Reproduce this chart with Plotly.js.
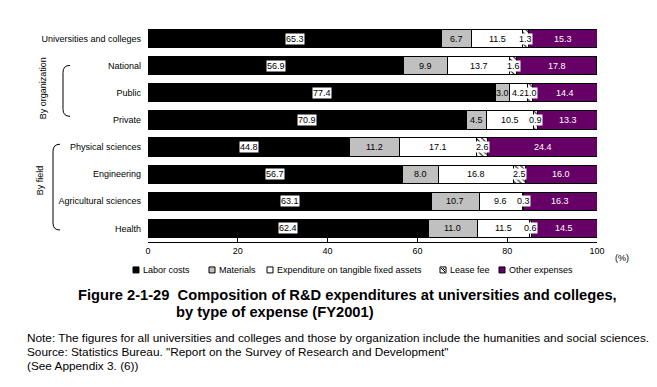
<!DOCTYPE html>
<html>
<head>
<meta charset="utf-8">
<script src="https://cdn.plot.ly/plotly-3.0.1.min.js"></script>
<style>
html,body{margin:0;padding:0;background:#fff;}
#chart{width:657px;height:387px;}
</style>
</head>
<body>
<div id="chart"></div>
<script>
// ---- data ----
const categories = ["Universities and colleges","National","Public","Private","Physical sciences","Engineering","Agricultural sciences","Health"];
const seriesNames = ["Labor costs","Materials","Expenditure on tangible fixed assets","Lease fee","Other expenses"];
const laborCosts   = [65.3, 56.9, 77.4, 70.9, 44.8, 56.7, 63.1, 62.4];
const materials    = [6.7, 9.9, 3.0, 4.5, 11.2, 8.0, 10.7, 11.0];
const fixedAssets  = [11.5, 13.7, 4.2, 10.5, 17.1, 16.8, 9.6, 11.5];
const leaseFee     = [1.3, 1.6, 1.0, 0.9, 2.6, 2.5, 0.3, 0.6];
const otherExp     = [15.3, 17.8, 14.4, 13.3, 24.4, 16.0, 16.3, 14.5];
const xTicks = [0, 20, 40, 60, 80, 100];

// ---- layout helpers (pixel geometry) ----
const W = 657, H = 387;
const L = 148, R = 597, T = 24.5, B = 242;
const px = x => (x - L) / (R - L);
const py = y => (B - y) / (B - T);

const FONT = "Arial, 'Liberation Sans', sans-serif";
const series = [laborCosts, materials, fixedAssets, leaseFee, otherExp];
const fills = ["#000000", "#c0c0c0", "#ffffff", "#ffffff", "#660066"];

const traces = series.map((vals, i) => {
  const t = {
    type: "bar",
    orientation: "h",
    name: seriesNames[i],
    y: categories,
    x: vals,
    marker: {color: fills[i], line: {color: "#000", width: 1}},
    hoverinfo: "skip",
    showlegend: false
  };
  if (i === 3) {
    t.marker.pattern = {shape: "\\", fgcolor: "#000", bgcolor: "#fff", size: 4, solidity: 0.25};
  }
  return t;
});

// value labels
const annotations = [];
categories.forEach((cat, r) => {
  let cum = 0;
  series.forEach((vals, i) => {
    const v = vals[r];
    const center = cum + v / 2;
    cum += v;
    const a = {
      x: center, y: cat, xref: "x", yref: "y",
      text: v.toFixed(1), showarrow: false, xanchor: "center", yanchor: "middle",
      font: {family: FONT, size: 9, color: i === 4 ? "#fff" : "#000"}
    };
    if (i === 0 || i === 3) { a.bgcolor = "#fff"; a.borderpad = 0; }
    annotations.push(a);
  });
});

// free text
const txt = (x, y, text, opts) => Object.assign({
  xref: "paper", yref: "paper", x: px(x), y: py(y), text: text, showarrow: false,
  xanchor: "center", yanchor: "middle",
  font: {family: FONT, size: 9, color: "#000"}
}, opts || {});

const TFONT = {family: FONT, size: 14.7, color: "#000"};
annotations.push(txt(622, 258, "(%)"));
annotations.push(txt(43, 88, "By organization", {textangle: -90}));
annotations.push(txt(40, 180, "By field", {textangle: -90}));
annotations.push(txt(76, 295, "<b>Figure 2-1-29  Composition of R&amp;D expenditures at universities and colleges,</b>", {xanchor: "left", font: TFONT}));
annotations.push(txt(174, 312, "<b>by type of expense (FY2001)</b>", {xanchor: "left", font: TFONT}));
annotations.push(txt(25, 338, "Note: The figures for all universities and colleges and those by organization include the humanities and social sciences.", {xanchor: "left", font: {family: FONT, size: 11.8, color: "#000"}}));
annotations.push(txt(25, 352, "Source: Statistics Bureau. \"Report on the Survey of Research and Development\"", {xanchor: "left", font: {family: FONT, size: 11.8, color: "#000"}}));
annotations.push(txt(25, 366, "(See Appendix 3. (6))", {xanchor: "left", font: {family: FONT, size: 11.8, color: "#000"}}));

// brackets
const bracket = (x, y0, y1) => {
  const h = 7;
  return `M ${px(x + h)},${py(y0)} Q ${px(x)},${py(y0)} ${px(x)},${py(y0 + h)} L ${px(x)},${py(y1 - h)} Q ${px(x)},${py(y1)} ${px(x + h)},${py(y1)}`;
};
const shapes = [
  {type: "path", xref: "paper", yref: "paper", path: bracket(63, 65, 116), line: {color: "#000", width: 1}},
  {type: "path", xref: "paper", yref: "paper", path: bracket(53, 144, 230), line: {color: "#000", width: 1}}
];

// legend (drawn as small keys + labels)
const legendX = [133, 209, 267, 440, 499];
const legendY = 270;
seriesNames.forEach((name, i) => {
  const x0 = legendX[i];
  shapes.push({type: "rect", xref: "paper", yref: "paper",
    x0: px(x0), x1: px(x0 + 6), y0: py(legendY + 3), y1: py(legendY - 3),
    fillcolor: fills[i], line: {color: "#000", width: 1}});
  if (i === 3) {
    shapes.push({type: "line", xref: "paper", yref: "paper",
      x0: px(x0 + 1), y0: py(legendY - 2), x1: px(x0 + 5), y1: py(legendY + 2),
      line: {color: "#000", width: 1}});
    shapes.push({type: "line", xref: "paper", yref: "paper",
      x0: px(x0 + 3), y0: py(legendY - 2), x1: px(x0 + 5), y1: py(legendY),
      line: {color: "#000", width: 1}});
  }
  annotations.push(txt(x0 + 8, legendY, name, {xanchor: "left"}));
});

const layout = {
  width: W, height: H,
  margin: {l: L, r: W - R, t: T, b: H - B, pad: 0},
  paper_bgcolor: "#fff", plot_bgcolor: "#fff",
  barmode: "stack", bargap: 0.33,
  showlegend: false,
  xaxis: {range: [0, 100], tickvals: xTicks, ticktext: xTicks.map(String),
          ticks: "inside", ticklen: 4, tickcolor: "#000", showline: true, linecolor: "#000", linewidth: 1,
          showgrid: false, zeroline: false, fixedrange: true,
          tickfont: {family: FONT, size: 9, color: "#000"}},
  yaxis: {type: "category", categoryorder: "array", categoryarray: categories, autorange: "reversed",
          showline: false, ticks: "", showgrid: false, zeroline: false, ticklabelstandoff: 6,
          tickfont: {family: FONT, size: 9, color: "#000"}},
  annotations: annotations,
  shapes: shapes,
  font: {family: FONT}
};

Plotly.newPlot("chart", traces, layout, {displayModeBar: false, staticPlot: true});
</script>
</body>
</html>
